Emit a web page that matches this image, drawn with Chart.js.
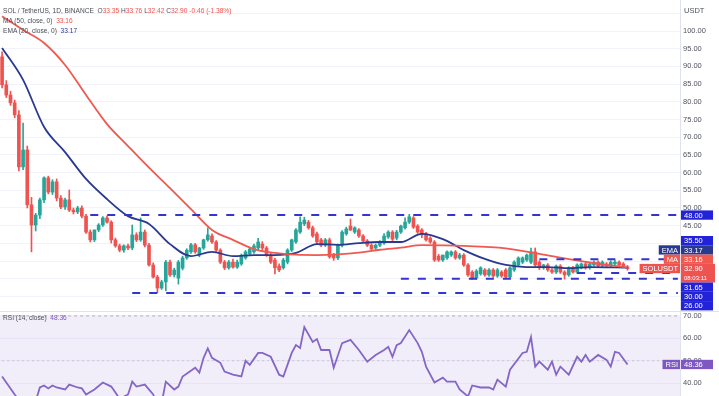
<!DOCTYPE html>
<html><head><meta charset="utf-8">
<script src="https://cdn.jsdelivr.net/npm/chart.js@4.4.1/dist/chart.umd.min.js"></script>
<style>
html,body{margin:0;padding:0;background:#fff;}
#wrap{position:relative;width:719px;height:396px;overflow:hidden;background:#fff;font-family:"Liberation Sans",Arial,sans-serif;}
.pane{position:absolute;left:0;width:719px;}
.lg{position:absolute;left:3px;font-size:6.6px;color:#4a4e5a;white-space:nowrap;line-height:9px;}
.r{color:#ef5350}
</style></head><body>
<div id="wrap">
<div class="pane" style="top:0;height:311px"><canvas id="pc"></canvas></div>
<div class="pane" style="top:311px;height:85px"><canvas id="rc"></canvas></div>
<div class="lg" style="top:6px">SOL / TetherUS, 1D, BINANCE&nbsp; O<span class="r">33.35</span> H<span class="r">33.76</span> L<span class="r">32.42</span> C<span class="r">32.90</span> <span class="r">-0.46 (-1.38%)</span></div>
<div class="lg" style="top:16px">MA (50, close, 0)&nbsp; <span class="r">33.16</span></div>
<div class="lg" style="top:26px">EMA (20, close, 0)&nbsp; <span style="color:#2a3990">33.17</span></div>
<div class="lg" style="top:313px">RSI (14, close)&nbsp; <span style="color:#7e57c2">48.36</span></div>
<div style="position:absolute;left:684px;top:6px;font-size:7.5px;color:#50535e;line-height:9px">USDT</div>
</div>
<script>
const opens=[92.7,84.8,81.9,79.7,76.3,61.6,66.4,50.9,45.2,48.0,
52.3,58.5,54.5,57.4,52.8,50.3,52.3,49.4,48.9,50.0,
47.7,43.2,41.0,43.8,45.2,47.2,46.0,41.0,39.3,38.1,
39.3,38.7,42.4,41.0,43.2,39.5,33.9,30.5,27.4,29.1,
34.7,31.1,30.2,33.0,35.9,37.6,39.6,36.7,38.7,41.0,
42.1,40.4,38.1,34.7,33.1,34.7,33.3,34.2,35.9,37.0,
37.6,38.7,39.8,38.7,36.7,35.3,33.6,33.1,34.7,38.1,
40.4,43.2,45.5,46.0,44.4,42.7,41.0,39.5,41.0,36.7,
35.9,39.5,42.7,44.9,43.2,43.8,42.1,40.7,39.5,38.7,
39.5,40.1,41.8,43.2,41.5,43.2,44.4,46.0,47.2,44.9,
43.8,42.7,41.5,40.4,36.4,35.3,35.9,36.7,37.6,35.9,
36.7,33.9,31.9,30.2,31.4,32.5,31.1,32.5,30.8,31.9,
32.5,30.5,32.5,33.9,34.7,35.3,34.7,37.6,34.7,33.1,
33.9,32.5,31.9,33.6,31.9,31.1,33.1,31.9,33.1,34.2,
33.1,33.9,34.7,33.6,34.2,33.6,34.2,34.7,34.2,33.35];
const highs=[94.1,86.0,83.0,80.5,77.5,74.0,67.5,53.0,48.5,52.8,
58.8,59.0,58.0,58.2,53.5,52.8,55.1,50.0,50.5,50.6,
48.2,43.8,43.8,45.6,47.6,47.8,46.4,41.5,39.8,39.6,
39.8,45.2,43.0,47.2,43.8,40.0,34.5,31.0,29.6,35.2,
35.3,33.0,35.2,36.4,38.5,40.0,40.0,38.9,41.2,44.4,
42.7,40.8,38.5,35.2,35.2,35.6,35.3,37.0,38.0,38.9,
39.8,41.4,40.5,39.2,37.2,35.8,34.2,35.8,38.5,41.2,
44.2,47.5,47.4,46.5,44.9,43.2,41.4,41.4,41.5,37.2,
39.8,43.6,44.6,46.9,44.7,44.2,42.5,41.1,39.9,39.8,
40.8,42.8,43.6,43.6,43.7,45.2,47.2,48.2,47.6,45.3,
44.2,43.1,41.9,40.8,36.9,36.7,37.9,37.9,38.0,37.2,
37.1,34.3,32.3,32.6,33.4,32.9,32.9,32.9,32.9,32.3,
32.9,33.4,35.1,36.2,36.2,37.0,38.7,38.7,35.1,34.1,
34.3,32.9,33.9,34.0,32.3,33.4,33.5,34.2,34.5,34.6,
34.5,35.1,35.1,35.1,34.6,35.1,35.2,35.1,34.6,33.76];
const lows=[83.9,81.2,79.0,75.5,60.5,60.8,50.0,37.6,43.5,47.0,
51.5,54.0,53.8,52.0,49.8,49.6,49.0,48.3,48.4,47.2,
42.8,40.4,40.5,43.3,44.8,45.7,40.1,38.9,37.6,37.5,
38.2,38.2,40.5,40.6,39.0,33.6,30.2,26.0,27.0,26.6,
30.7,30.5,28.5,32.5,35.5,37.2,37.2,36.2,38.3,40.6,
40.0,37.7,34.3,32.6,32.7,33.0,32.9,33.8,35.5,36.6,
37.2,38.2,38.2,36.3,34.3,31.4,32.0,32.7,34.2,37.7,
40.0,42.8,45.0,44.0,41.7,39.9,39.1,39.1,35.8,35.2,
35.4,39.0,42.3,43.6,42.8,41.7,40.3,39.1,38.0,38.3,
39.1,39.7,41.4,40.8,41.0,42.8,44.0,45.6,44.2,42.8,
41.6,40.6,40.0,34.9,34.9,34.9,35.5,36.3,35.5,35.5,
33.5,30.7,29.8,29.8,31.0,30.7,30.7,30.4,30.4,30.4,
30.1,30.1,32.1,33.5,34.3,34.9,34.3,33.5,32.6,32.7,
32.1,31.5,31.5,31.5,29.9,30.7,31.6,31.5,32.8,32.7,
32.7,33.5,33.3,33.2,33.2,33.2,33.8,33.5,33.3,32.42];
const closes=[84.8,81.9,79.7,76.3,61.6,66.4,50.9,45.2,48.0,52.3,
58.5,54.5,57.4,52.8,50.3,52.3,49.4,48.9,50.0,47.7,
43.2,41.0,43.8,45.2,47.2,46.0,41.0,39.3,38.1,39.3,
38.7,42.4,41.0,43.2,39.5,33.9,30.5,27.4,29.1,34.7,
31.1,32.5,34.7,35.9,38.1,39.6,37.6,38.7,41.0,42.4,
40.4,38.1,34.7,33.1,34.7,33.3,34.7,36.4,37.6,38.4,
39.3,40.4,38.7,36.7,34.7,33.1,32.5,35.3,38.1,41.0,
43.8,46.0,46.6,44.4,42.1,40.4,39.5,41.0,36.2,35.9,
39.5,43.2,44.1,43.8,44.4,42.1,40.7,39.5,38.4,39.5,
40.4,42.1,43.2,41.2,43.2,44.9,46.0,47.5,44.6,43.2,
42.4,41.0,40.4,35.3,35.3,36.7,37.6,37.6,35.9,36.7,
33.9,31.1,30.2,32.2,33.1,31.1,32.5,30.8,32.5,30.8,
30.5,33.1,34.7,35.9,35.9,36.7,37.6,33.9,33.1,33.9,
32.5,31.9,33.6,31.9,31.1,33.1,31.9,33.9,34.2,33.1,
34.2,34.7,33.6,34.7,33.6,34.7,34.7,33.9,33.6,32.90];

const maIdx=[0,5,10,15,20,25,30,35,40,45,50,55,60,65,70,75,80,85,90,95,100,110,120,130,140,149];
const maVal=[104.2,100.3,96.6,90.4,81.9,73.7,67.5,61.4,55.6,49.7,43.8,41.0,38.4,37.3,36.8,36.7,36.9,37.4,38.2,38.8,39.5,39.3,38.6,36.6,34.6,33.16];
const emaIdx=[0,5,10,15,20,25,30,35,40,45,50,55,60,65,70,75,80,85,90,95,100,105,110,115,120,125,130,135,140,149];
const emaVal=[95.2,86.2,72.9,65.8,58.2,52.5,47.7,45.5,39.8,36.4,37.6,36.4,36.7,36.7,37.3,39.8,39.6,40.1,40.4,40.4,42.7,41.2,38.1,35.6,33.9,33.3,33.3,33.0,33.3,33.17];
const rsiIdx=[0,3,5,7,9,10,11,12,13,15,16,18,19,20,22,24,26,27,28,30,31,32,34,36,37,38,39,41,42,43,46,47,48,49,50,52,53,55,57,58,59,61,62,64,66,67,69,70,71,72,74,75,76,78,79,81,83,85,87,89,91,92,93,94,95,97,99,100,101,103,105,106,108,109,111,112,114,116,117,118,120,121,124,125,126,127,128,130,131,132,133,135,137,138,139,140,142,144,145,146,147,149];
const rsiVal=[43.0,35.0,30.0,26.0,38.1,39.0,37.7,39.0,38.1,37.2,39.4,38.1,37.7,35.0,37.2,40.3,38.5,35.9,33.0,35.0,40.7,38.5,39.4,35.0,30.0,31.0,40.7,37.2,38.5,43.0,46.9,44.7,51.3,55.5,51.3,49.1,45.2,43.8,43.0,50.0,48.2,53.5,53.5,51.8,43.8,43.0,53.5,57.0,55.7,65.0,58.4,59.7,54.8,54.8,46.9,57.9,59.3,54.8,49.6,52.6,54.8,56.2,51.8,57.0,57.9,63.7,57.9,54.0,47.4,40.3,42.5,40.7,40.7,37.2,34.1,39.0,38.1,38.1,37.2,41.6,38.5,46.0,53.5,54.0,60.6,47.4,49.6,46.0,49.6,43.8,47.4,43.8,51.8,49.6,52.6,49.6,52.6,50.4,47.4,54.0,53.5,48.36];
const levels=[48,35.5,31.65,30,26];
const levelStart=[21,128,137,95,31];
const rsiLevels=[70,50];
const lastPrice=32.90, lastMA=33.16, lastEMA=33.17, lastRSI=48.36;
const countdown='08:03:11';
const slots=162;
const cats=Array.from({length:slots},(_,i)=>'D'+(i+1));

const UP='#26a69a', DN='#ef5350', MAC='#f0594f', EMAC='#2a3990', LVL='#3434cf', BOX='#2222d8', RSIC='#7e57c2';
const FONT='"Liberation Sans", Arial, sans-serif';
const n=opens.length;
const cc=cats.map((_,i)=> i<n ? (closes[i]>=opens[i]?UP:DN) : UP);
const wickData=cats.map((_,i)=> i<n ? [lows[i],highs[i]] : null);
const bodyData=cats.map((_,i)=> i<n ? [opens[i],closes[i]] : null);
function sparse(idx,val){const a=cats.map(()=>null); idx.forEach((k,j)=>{a[k]=val[j];}); return a;}

function fitAxis(s){s.width=39; s.paddingTop=0; s.paddingBottom=0;}

function layoutBoxes(items,h,minY,maxY){
  let cl=items.map(it=>({its:[it],top:it.top,hgt:it.rows*h}));
  let merged=true;
  while(merged){
    merged=false;
    for(let k=0;k<cl.length-1;k++){
      const a=cl[k], b=cl[k+1];
      if(a.top+a.hgt>b.top+0.01){
        const its=a.its.concat(b.its);
        let off=0,sum=0;
        its.forEach(it=>{sum+=it.top-off; off+=it.rows*h;});
        let top=sum/its.length;
        top=Math.min(Math.max(top,minY),maxY-off);
        cl.splice(k,2,{its,top,hgt:off}); merged=true; break;
      }
    }
  }
  cl.forEach(c=>{let t=c.top; c.its.forEach(it=>{it.y0=t; t+=it.rows*h;});});
}

function drawTag(ctx,x,y0,h,txt,col,bw,sub){
  ctx.fillStyle=col;
  ctx.fillRect(x,y0,bw,h*(sub?2:1));
  ctx.fillStyle='#fff';
  ctx.fillText(txt,x+3,y0+h/2+0.5);
  if(sub){ctx.font='6px '+FONT; ctx.fillText(sub,x+3,y0+h*1.5+0.5); ctx.font='7.5px '+FONT;}
}

const pricePlugin={id:'pbox',afterDraw(c){
  const ctx=c.ctx, y=c.scales.y, ca=c.chartArea;
  ctx.save();
  ctx.fillStyle='#e0e3eb'; ctx.fillRect(ca.right,0,1,c.height);
  ctx.font='7.5px '+FONT; ctx.textBaseline='middle'; ctx.textAlign='left';
  const h=9.3;
  const items=[
    {v:levels[0],txt:levels[0].toFixed(2),col:BOX},
    {v:levels[1],txt:levels[1].toFixed(2),col:BOX},
    {v:lastEMA,txt:lastEMA.toFixed(2),col:EMAC,tag:'EMA'},
    {v:lastMA,txt:lastMA.toFixed(2),col:MAC,tag:'MA'},
    {v:lastPrice,txt:lastPrice.toFixed(2),col:DN,tag:'SOLUSDT',sub:countdown},
    {v:levels[2],txt:levels[2].toFixed(2),col:BOX},
    {v:levels[3],txt:levels[3].toFixed(2),col:BOX},
    {v:levels[4],txt:levels[4].toFixed(2),col:BOX}
  ];
  items.forEach(it=>{it.rows=it.sub?2:1; it.top=y.getPixelForValue(it.v)-h/2;});
  layoutBoxes(items,h,ca.top,ca.bottom);
  items.forEach(it=>{
    drawTag(ctx,ca.right+1,it.y0,h,it.txt,it.col,it.sub?34:32,it.sub);
    if(it.tag){
      const w=ctx.measureText(it.tag).width+5;
      drawTag(ctx,ca.right-w,it.y0,h,it.tag,it.col,w);
    }
  });
  ctx.restore();
}};

const priceDatasets=[
  {type:'bar',data:wickData,backgroundColor:cc,barThickness:1,grouped:false,order:4,borderWidth:0},
  {type:'bar',data:bodyData,backgroundColor:cc,barThickness:3,grouped:false,order:3,borderWidth:0,minBarLength:1},
  {type:'line',data:sparse(maIdx,maVal),borderColor:MAC,borderWidth:1.8,pointRadius:0,spanGaps:true,cubicInterpolationMode:'monotone',order:1},
  {type:'line',data:sparse(emaIdx,emaVal),borderColor:EMAC,borderWidth:1.8,pointRadius:0,spanGaps:true,cubicInterpolationMode:'monotone',order:1}
].concat(levels.map((v,j)=>({type:'line',data:cats.map((_,i)=>i>=levelStart[j]?v:null),borderColor:LVL,borderWidth:2,borderDash:[8,9],pointRadius:0,order:0})));

new Chart(document.getElementById('pc'),{
  type:'bar',
  data:{labels:cats,datasets:priceDatasets},
  options:{responsive:true,maintainAspectRatio:false,animation:false,
    layout:{padding:0},
    plugins:{legend:{display:false},tooltip:{enabled:false}},
    scales:{
      x:{display:false,offset:true},
      y:{position:'right',min:20.9,max:108.76,afterFit:fitAxis,
         grid:{color:'#f0f3fa',drawTicks:false},border:{display:false},
         ticks:{stepSize:5,includeBounds:false,padding:3,color:'#50535e',font:{size:7.5,family:FONT},
           callback:(v)=> (v>=45 && v<=100) ? Number(v).toFixed(2) : ''}}
    }},
  plugins:[pricePlugin]
});

const rsiPlugin={id:'rsib',
  beforeDatasetsDraw(c){
    const ctx=c.ctx, y=c.scales.y, ca=c.chartArea;
    const t=y.getPixelForValue(70), b=Math.min(y.getPixelForValue(30),ca.bottom);
    ctx.save(); ctx.fillStyle='rgba(126,87,194,0.1)'; ctx.fillRect(ca.left,t,ca.right-ca.left,b-t); ctx.restore();
  },
  afterDraw(c){
    const ctx=c.ctx, y=c.scales.y, ca=c.chartArea;
    ctx.save();
    ctx.fillStyle='#e0e3eb'; ctx.fillRect(0,0,c.width,1); ctx.fillRect(ca.right,0,1,c.height);
    ctx.font='7.5px '+FONT; ctx.textBaseline='middle'; ctx.textAlign='left';
    const h=9.3, y0=y.getPixelForValue(lastRSI)-h/2;
    drawTag(ctx,ca.right+1,y0,h,lastRSI.toFixed(2),RSIC,32);
    const w=ctx.measureText('RSI').width+5;
    drawTag(ctx,ca.right-w,y0,h,'RSI',RSIC,w);
    ctx.restore();
  }};

new Chart(document.getElementById('rc'),{
  type:'line',
  data:{labels:cats,datasets:[
    {data:sparse(rsiIdx,rsiVal),borderColor:'#8466c6',borderWidth:1.8,pointRadius:0,spanGaps:true,tension:0},
    {data:cats.map(()=>rsiLevels[0]),borderColor:'rgba(120,123,134,0.55)',borderWidth:1,borderDash:[3,3],pointRadius:0},
    {data:cats.map(()=>rsiLevels[1]),borderColor:'rgba(120,123,134,0.3)',borderWidth:1,borderDash:[2,3],pointRadius:0}
  ]},
  options:{responsive:true,maintainAspectRatio:false,animation:false,
    layout:{padding:0},
    plugins:{legend:{display:false},tooltip:{enabled:false}},
    scales:{
      x:{display:false,offset:true},
      y:{position:'right',min:34.3,max:72.2,afterFit:fitAxis,
         grid:{color:'rgba(240,243,250,0.9)',drawTicks:false},border:{display:false},
         ticks:{stepSize:10,includeBounds:false,padding:3,color:'#50535e',font:{size:7.5,family:FONT},
           callback:(v)=>Number(v).toFixed(2)}}
    }},
  plugins:[rsiPlugin]
});
</script>
</body></html>
